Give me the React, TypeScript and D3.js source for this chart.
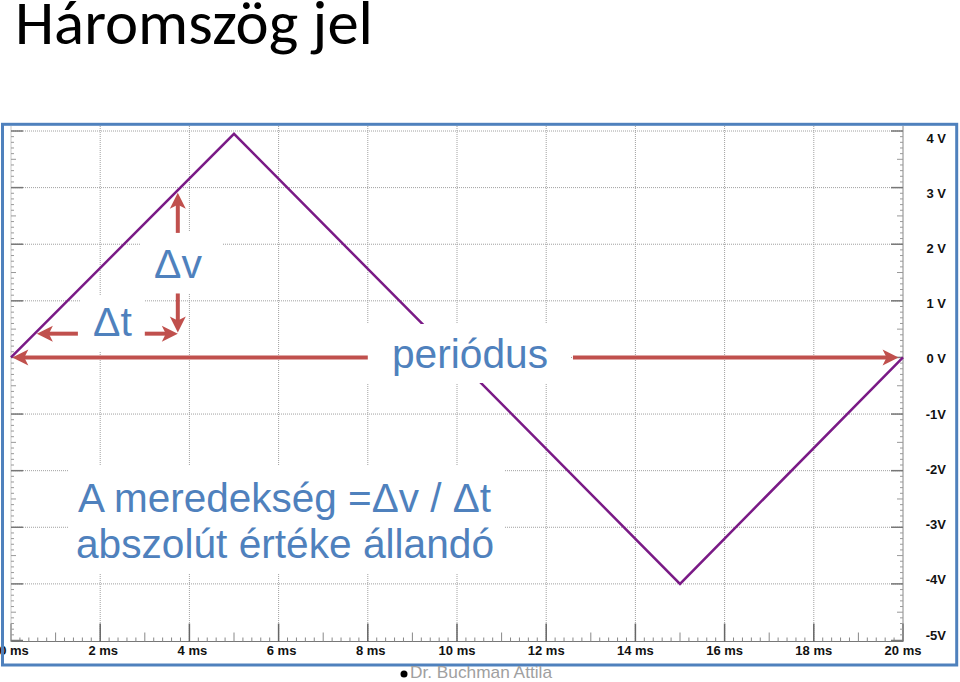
import React from "react";
import * as d3 from "d3";

const W = 960;
const H = 682;

// signal data
const T_MS = [0, 5, 15, 20];
const V_SIG = [0, 3.95, -4, 0];

// axis ticks
const X_TICKS = [0, 2, 4, 6, 8, 10, 12, 14, 16, 18, 20];
const X_LABELS = ["0 ms", "2 ms", "4 ms", "6 ms", "8 ms", "10 ms", "12 ms", "14 ms", "16 ms", "18 ms", "20 ms"];
const Y_TICKS = [4, 3, 2, 1, 0, -1, -2, -3, -4, -5];
const Y_LABELS = ["4 V", "3 V", "2 V", "1 V", "0 V", "-1V", "-2V", "-3V", "-4V", "-5V"];

// annotation arrows in data units (ms, V): tail -> tip
const ARROW_T0 = [3.74, 3.74, 1.5, 3.0, 8.0, 12.6];
const ARROW_V0 = [2.2, 1.13, 0.42, 0.42, 0, 0];
const ARROW_T1 = [3.74, 3.74, 0.58, 3.74, 0.03, 19.9];
const ARROW_V1 = [2.91, 0.44, 0.42, 0.42, 0, 0];

const BLUE = "#4f81bd";
const RED = "#c0504d";
const FONT = "'Liberation Sans', Arial, sans-serif";

export default function App() {
  const x = d3.scaleLinear().domain([0, 20]).range([11, 903]);
  const y = d3.scaleLinear().domain([-5, 4]).range([640.5, 131]);
  const yLab = d3.scaleLinear().domain([-5, 4]).range([635, 138]);
  const plotTop = 126;
  const plotBottom = y(-5) + 1;

  const line = d3
    .line<number>()
    .x((_, i) => x(T_MS[i]))
    .y((d) => y(d));

  const xMinor = d3.range(0, 101).map((i) => ({ t: i * 0.2, k: i % 10 === 0 ? 2 : i % 5 === 0 ? 1 : 0 }));
  const yMinor = d3.range(0, 91).map((i) => ({ v: -5 + i * 0.1, k: i % 10 === 0 ? 2 : i % 5 === 0 ? 1 : 0 }));

  const arrows = ARROW_T0.map((t0, i) => {
    const x0 = x(t0), y0 = y(ARROW_V0[i]);
    const x1 = x(ARROW_T1[i]), y1 = y(ARROW_V1[i]);
    const len = Math.hypot(x1 - x0, y1 - y0);
    const dx = (x1 - x0) / len, dy = (y1 - y0) / len;
    const nx = -dy, ny = dx;
    const L = 16, HW = 8, N = 4;
    const head = [
      [x1, y1],
      [x1 - L * dx + HW * nx, y1 - L * dy + HW * ny],
      [x1 - (L - N) * dx, y1 - (L - N) * dy],
      [x1 - L * dx - HW * nx, y1 - L * dy - HW * ny],
    ];
    return { x0, y0, xe: x1 - (L - 5) * dx, ye: y1 - (L - 5) * dy, head };
  });

  const textStyle = { fontFamily: FONT, fontSize: 41, fill: BLUE } as const;

  return (
    <div style={{ position: "absolute", left: 0, top: 0 }}>
      <svg width={W} height={H} style={{ display: "block", background: "#fff" }}>
        <text x={15} y={44} fontFamily="Carlito, Lato, sans-serif" fontSize={61} fill="#000" textLength={358} lengthAdjust="spacingAndGlyphs">
          Háromszög jel
        </text>

        {/* grid */}
        {Y_TICKS.filter((v) => v > -5).map((v) => (
          <line key={"gh" + v} x1={x(0)} x2={x(20)} y1={y(v)} y2={y(v)} stroke="#a0a0a0" strokeWidth={1} strokeDasharray="1 1" />
        ))}
        {X_TICKS.filter((t) => t > 0 && t < 20).map((t) => (
          <line key={"gv" + t} x1={x(t)} x2={x(t)} y1={plotTop} y2={plotBottom} stroke="#a0a0a0" strokeWidth={1} strokeDasharray="1 1" />
        ))}

        {/* bottom axis */}
        <line x1={x(0)} x2={x(20)} y1={plotBottom} y2={plotBottom} stroke="#777" strokeWidth={1.2} />
        {xMinor.map((d, i) => (
          <line key={"xt" + i} x1={x(d.t)} x2={x(d.t)} y1={plotBottom} y2={plotBottom - (d.k === 2 ? 18 : d.k === 1 ? 9 : 4)} stroke={d.k === 2 ? "#666" : "#888"} strokeWidth={d.k === 2 ? 1.5 : 1} />
        ))}
        {/* left axis */}
        <line x1={x(0)} x2={x(0)} y1={plotTop} y2={plotBottom} stroke="#c8c8c8" strokeWidth={1} />
        {yMinor.map((d, i) => (
          <line key={"yl" + i} x1={x(0)} x2={x(0) + (d.k === 2 ? 12 : d.k === 1 ? 5 : 3)} y1={y(d.v)} y2={y(d.v)} stroke={d.k === 2 ? "#777" : "#999"} strokeWidth={d.k === 2 ? 1.5 : 1} />
        ))}
        {/* right axis */}
        <line x1={x(20)} x2={x(20)} y1={plotTop} y2={plotBottom} stroke="#888" strokeWidth={1} />
        {yMinor.map((d, i) => (
          <line key={"yr" + i} x1={x(20)} x2={x(20) - (d.k === 2 ? 12 : d.k === 1 ? 6 : 3)} y1={y(d.v)} y2={y(d.v)} stroke={d.k === 2 ? "#777" : "#999"} strokeWidth={d.k === 2 ? 1.5 : 1} />
        ))}

        {/* axis labels */}
        {X_TICKS.map((t, i) => (
          <text key={"xl" + t} x={x(t) + (X_LABELS[i].length < 5 ? 3 : 0)} y={655} textAnchor="middle" fontFamily={FONT} fontWeight="bold" fontSize={13} fill="#111">
            {X_LABELS[i]}
          </text>
        ))}
        {Y_TICKS.map((v, i) => (
          <text key={"yl" + v} x={946} y={yLab(v)} textAnchor="end" dominantBaseline="central" fontFamily={FONT} fontWeight="bold" fontSize={13} fill="#111">
            {Y_LABELS[i]}
          </text>
        ))}

        {/* signal */}
        <path d={line(V_SIG) ?? ""} fill="none" stroke="#7a1a86" strokeWidth={2.5} strokeLinejoin="miter" />

        {/* text backgrounds */}
        <rect x={140} y={232} width={82} height={62} fill="#fff" />
        <rect x={80} y={296} width={65} height={56} fill="#fff" />
        <rect x={365} y={324} width={205} height={59} fill="#fff" />
        <rect x={68} y={465} width={437} height={108} fill="#fff" />

        {/* annotation texts */}
        <text x={154} y={278} {...textStyle}>Δv</text>
        <text x={93} y={336} {...textStyle}>Δt</text>
        <text x={392} y={368} {...textStyle} textLength={156} lengthAdjust="spacingAndGlyphs">periódus</text>
        <text x={78} y={512} {...textStyle} textLength={413} lengthAdjust="spacingAndGlyphs">A meredekség =Δv / Δt</text>
        <text x={76} y={558} {...textStyle} textLength={418} lengthAdjust="spacingAndGlyphs">abszolút értéke állandó</text>

        {/* arrows */}
        {arrows.map((a, i) => (
          <g key={"ar" + i}>
            <line x1={a.x0} y1={a.y0} x2={a.xe} y2={a.ye} stroke={RED} strokeWidth={4} />
            <polygon points={a.head.map((p) => p.join(",")).join(" ")} fill={RED} />
          </g>
        ))}

        {/* frame */}
        <rect x={2.5} y={124.3} width={954.2} height={540.7} fill="none" stroke={BLUE} strokeWidth={3} />

        {/* footer */}
        <circle cx={404} cy={674} r={3.5} fill="#000" />
        <text x={410} y={678} fontFamily={FONT} fontSize={17} fill="#a0a0a0" textLength={142} lengthAdjust="spacingAndGlyphs">Dr. Buchman Attila</text>
      </svg>
    </div>
  );
}
